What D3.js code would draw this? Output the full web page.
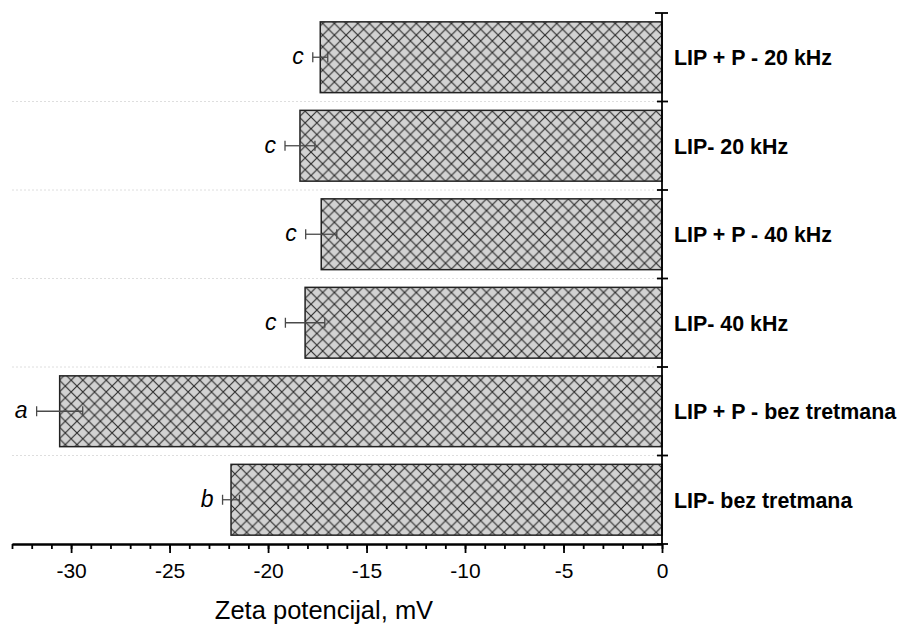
<!DOCTYPE html>
<html lang="en">
<head>
<meta charset="UTF-8">
<title>Zeta potencijal</title>
<style>
  body { margin: 0; background: #fff; }
  svg { display: block; font-family: Arial, "Liberation Sans", sans-serif; }
</style>
</head>
<body>
<svg id="chart"></svg>
<script src="https://cdnjs.cloudflare.com/ajax/libs/d3/7.8.5/d3.min.js"></script>
<script>
// data, top to bottom
const categories = [
  "LIP + P - 20 kHz",
  "LIP- 20 kHz",
  "LIP + P - 40 kHz",
  "LIP- 40 kHz",
  "LIP + P - bez tretmana",
  "LIP- bez tretmana"
];
const values = [-17.35, -18.38, -17.3, -18.12, -30.58, -21.88];
const errors = [0.38, 0.76, 0.79, 1.0, 1.17, 0.43];
const letters = ["c", "c", "c", "c", "a", "b"];
const majorTicks = [-30, -25, -20, -15, -10, -5, 0];

const width = 899, height = 626;
const plotL = 12, plotR = 662, plotT = 13, plotB = 544;

const svg = d3.select("#chart").attr("width", width).attr("height", height);

const x = d3.scaleLinear().domain([-33, 0]).range([plotL, plotR]);
const y = d3.scaleBand().domain(categories).range([plotT, plotB])
  .paddingInner(0.2).paddingOuter(0.1);

// crosshatch pattern
const defs = svg.append("defs");
const pat = defs.append("pattern")
  .attr("id", "hatch")
  .attr("patternUnits", "userSpaceOnUse")
  .attr("width", 11.7).attr("height", 11.7)
  .attr("x", plotR);
pat.append("rect").attr("width", 11.7).attr("height", 11.7).attr("fill", "#d2d2d2");
pat.append("path")
  .attr("d", "M0,0L11.7,11.7M11.7,0L0,11.7")
  .attr("stroke", "#2a2a2a").attr("stroke-width", 1.1);

// band boundaries
const step = y.step();
const bounds = categories.slice(1).map(c => y(c) - step * y.paddingInner() / 2);

svg.append("g").selectAll("line")
  .data(bounds)
  .join("line")
  .attr("x1", plotL).attr("x2", plotR)
  .attr("y1", d => d).attr("y2", d => d)
  .attr("stroke", "#dedede")
  .attr("stroke-dasharray", "2,2");

// bars
svg.append("g").selectAll("rect")
  .data(values)
  .join("rect")
  .attr("x", d => x(d))
  .attr("y", (d, i) => y(categories[i]))
  .attr("width", d => x(0) - x(d))
  .attr("height", y.bandwidth())
  .attr("fill", "url(#hatch)")
  .attr("stroke", "#222")
  .attr("stroke-width", 1.5);

// error bars
const eb = svg.append("g").attr("stroke", "#4a4a4a").attr("stroke-width", 1.3);
values.forEach((v, i) => {
  const cy = y(categories[i]) + y.bandwidth() / 2;
  eb.append("line").attr("x1", x(v - errors[i])).attr("x2", x(v + errors[i]))
    .attr("y1", cy).attr("y2", cy);
  [v - errors[i], v + errors[i]].forEach(e => {
    eb.append("line").attr("x1", x(e)).attr("x2", x(e))
      .attr("y1", cy - 5).attr("y2", cy + 5);
  });
});

// significance letters
svg.append("g").selectAll("text")
  .data(letters)
  .join("text")
  .attr("x", (d, i) => x(values[i] - errors[i]) - 9)
  .attr("y", (d, i) => y(categories[i]) + y.bandwidth() / 2 + 7)
  .attr("text-anchor", "end")
  .attr("font-style", "italic")
  .attr("font-size", 23)
  .text(d => d);

// right axis (at zero)
const ra = svg.append("g").attr("stroke", "#000").attr("stroke-width", 1.8);
ra.append("line").attr("x1", x(0)).attr("x2", x(0)).attr("y1", plotT).attr("y2", plotB);
ra.append("line").attr("x1", x(0) - 7).attr("x2", x(0) + 6).attr("y1", plotT).attr("y2", plotT);
ra.selectAll(".rt")
  .data(bounds.concat([plotB]))
  .join("line")
  .attr("x1", x(0) - 5).attr("x2", x(0) + 6)
  .attr("y1", d => d).attr("y2", d => d);

svg.append("g").selectAll("text")
  .data(categories)
  .join("text")
  .attr("x", x(0) + 12)
  .attr("y", d => y(d) + y.bandwidth() / 2 + 8)
  .attr("font-weight", "bold")
  .attr("font-size", 21.4)
  .text(d => d);

// bottom axis
const minor = svg.append("g")
  .attr("transform", `translate(0,${plotB})`)
  .call(d3.axisBottom(x).tickValues(d3.range(-33, 1)).tickSize(5).tickSizeOuter(0).tickFormat(""));
const major = svg.append("g")
  .attr("transform", `translate(0,${plotB})`)
  .call(d3.axisBottom(x).tickValues(majorTicks).tickSize(9).tickSizeOuter(0)
    .tickPadding(10).tickFormat(d => String(d)));
[minor, major].forEach(g => {
  g.selectAll("path, line").attr("stroke", "#000").attr("stroke-width", 1.8);
});
major.selectAll("text")
  .attr("font-size", 21)
  .attr("font-family", "Arial, 'Liberation Sans', sans-serif")
  .attr("fill", "#000");

svg.append("text")
  .attr("x", 324)
  .attr("y", 619)
  .attr("text-anchor", "middle")
  .attr("font-size", 25.5)
  .text("Zeta potencijal, mV");
</script>
</body>
</html>
